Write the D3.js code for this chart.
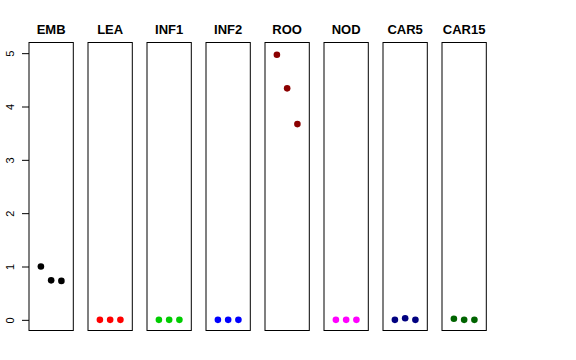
<!DOCTYPE html>
<html lang="en">
<head>
    <meta charset="UTF-8">
    <title>Panels</title>
    <script src="https://d3js.org/d3.v7.min.js"></script>
    <style>
        body { margin: 0; background: #fff; font-family: "Liberation Sans", Arial, sans-serif; }
    </style>
</head>
<body>
    <svg width="576" height="360"></svg>
    <script>
        // Data
        const panels = ["EMB", "LEA", "INF1", "INF2", "ROO", "NOD", "CAR5", "CAR15"];
        const colors = ["#000000", "#FF0000", "#00CD00", "#0000FF", "#8B0000", "#FF00FF", "#000080", "#006400"];
        const values = [
            [1.0, 0.74, 0.73],
            [0, 0, 0],
            [0, 0, 0],
            [0, 0, 0],
            [4.97, 4.34, 3.67],
            [0, 0, 0],
            [0, 0.03, 0],
            [0.02, 0, 0]
        ];
        const yTicks = [0, 1, 2, 3, 4, 5];

        const svg = d3.select("svg");
        const panelW = 44.3, step = 59, left0 = 29;
        const plotTop = 42.5, plotBottom = 330.5;

        const y = d3.scaleLinear().domain([-0.2, 5.2]).range([plotBottom, plotTop]);
        const x = d3.scaleLinear().domain([-0.16, 4.16]).range([0, panelW]);

        panels.forEach((name, i) => {
            const g = svg.append("g").attr("transform", `translate(${left0 + i * step},0)`);

            g.append("rect")
                .attr("x", 0).attr("y", plotTop)
                .attr("width", panelW).attr("height", plotBottom - plotTop)
                .attr("fill", "none").attr("stroke", "#000").attr("stroke-width", 1);

            g.append("text")
                .attr("x", panelW / 2).attr("y", 34)
                .attr("text-anchor", "middle")
                .style("font-size", "13px").style("font-weight", "bold")
                .text(name);

            g.selectAll("circle")
                .data(values[i])
                .enter()
                .append("circle")
                .attr("cx", (d, j) => x(j + 1))
                .attr("cy", d => y(d))
                .attr("r", 3.3)
                .attr("fill", colors[i]);

            if (i === 0) {
                // y axis on the first panel only, labels turned like R's las=0
                const axis = g.append("g")
                    .call(d3.axisLeft(y).tickValues(yTicks).tickSize(7).tickFormat(d3.format("d")));
                axis.select(".domain").remove();
                axis.selectAll("text")
                    .style("font-size", "11px")
                    .style("font-family", "Liberation Sans, Arial, sans-serif")
                    .attr("transform", "rotate(-90)")
                    .attr("text-anchor", "middle")
                    .attr("x", 0)
                    .attr("y", -19)
                    .attr("dy", "0.35em");
            }
        });
    </script>
</body>
</html>
